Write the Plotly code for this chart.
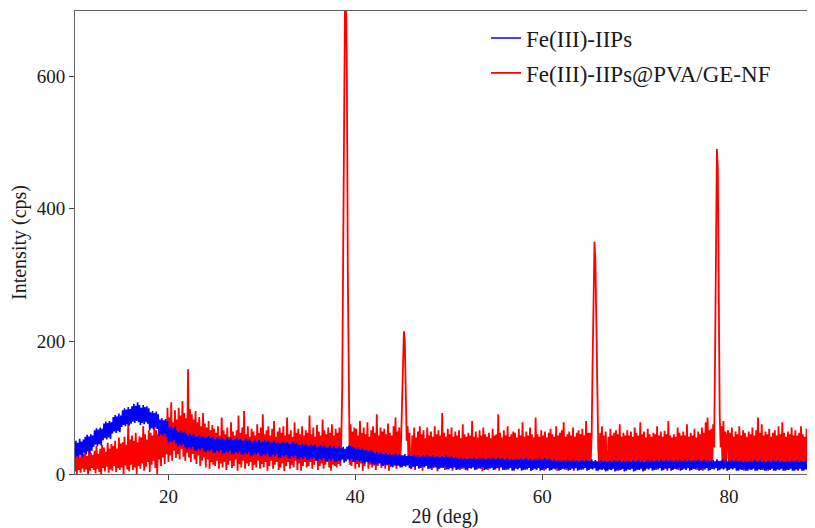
import plotly.graph_objects as go

# 2-theta sampling grid (deg), 0.1 deg step from 10.0 to 89.2
two_theta = [round(10 + 0.1 * i, 1) for i in range(793)]

# Fe(III)-IIPs (blue) intensity (cps), one row per degree
fe_iips = [
    24, 50, 27, 47, 25, 53, 29, 49, 26, 52,
    32, 56, 30, 59, 34, 57, 31, 60, 35, 58,
    41, 66, 44, 69, 42, 67, 45, 70, 43, 68,
    51, 76, 54, 79, 52, 77, 55, 80, 53, 78,
    61, 86, 64, 89, 62, 87, 65, 91, 63, 88,
    71, 96, 74, 99, 72, 97, 75, 101, 73, 98,
    76, 102, 79, 106, 77, 103, 80, 108, 78, 104,
    74, 100, 77, 104, 75, 101, 78, 102, 76, 99,
    66, 93, 69, 95, 67, 92, 70, 94, 68, 90,
    57, 82, 60, 84, 58, 81, 61, 83, 56, 80,
    47, 70, 50, 72, 48, 69, 51, 71, 46, 66,
    41, 63, 44, 65, 42, 62, 45, 64, 40, 61,
    37, 59, 40, 61, 38, 58, 41, 60, 36, 57,
    35, 57, 38, 59, 36, 56, 39, 58, 34, 55,
    33, 55, 36, 57, 34, 54, 37, 56, 32, 53,
    32, 54, 35, 56, 33, 53, 36, 55, 31, 52,
    31, 53, 34, 55, 32, 52, 35, 54, 30, 51,
    30, 52, 33, 54, 31, 51, 34, 53, 29, 50,
    29, 51, 32, 53, 30, 50, 33, 52, 28, 49,
    28, 50, 31, 52, 29, 49, 32, 51, 27, 48,
    27, 49, 30, 51, 28, 48, 31, 50, 26, 47,
    26, 48, 29, 50, 27, 47, 30, 49, 25, 46,
    25, 47, 28, 49, 26, 46, 29, 48, 24, 45,
    24, 46, 27, 48, 25, 45, 28, 47, 23, 44,
    22, 44, 25, 46, 23, 43, 26, 45, 21, 42,
    21, 43, 24, 45, 22, 42, 25, 44, 20, 41,
    20, 42, 23, 44, 21, 41, 24, 43, 19, 40,
    19, 41, 22, 43, 20, 40, 23, 42, 18, 39,
    18, 40, 21, 42, 19, 39, 22, 41, 17, 38,
    19, 41, 22, 43, 20, 42, 23, 41, 18, 40,
    18, 38, 21, 40, 19, 37, 20, 39, 17, 36,
    16, 36, 19, 37, 17, 35, 18, 36, 15, 34,
    13, 31, 15, 33, 14, 30, 16, 32, 12, 30,
    12, 30, 14, 32, 13, 29, 15, 31, 11, 29,
    11, 29, 13, 31, 12, 28, 14, 30, 10, 28,
    10, 28, 12, 30, 11, 27, 13, 29, 9, 27,
    9, 27, 11, 29, 10, 26, 12, 28, 8, 26,
    9, 27, 11, 28, 10, 26, 12, 29, 8, 27,
    8, 26, 10, 28, 9, 25, 11, 27, 7, 25,
    8, 26, 10, 27, 9, 25, 11, 28, 7, 26,
    7, 25, 9, 27, 8, 24, 10, 26, 6, 24,
    7, 23, 9, 25, 8, 22, 10, 24, 6, 22,
    7, 23, 9, 24, 8, 22, 10, 25, 6, 23,
    7, 23, 9, 25, 8, 22, 10, 24, 6, 22,
    7, 23, 9, 24, 8, 22, 10, 25, 6, 23,
    7, 23, 9, 25, 8, 22, 10, 24, 6, 22,
    6, 22, 8, 24, 7, 21, 9, 23, 5, 21,
    6, 22, 8, 23, 7, 21, 9, 24, 5, 22,
    6, 22, 8, 24, 7, 21, 9, 23, 5, 21,
    6, 22, 8, 23, 7, 21, 9, 24, 5, 22,
    6, 22, 8, 24, 7, 21, 9, 23, 5, 21,
    6, 20, 8, 22, 7, 19, 9, 21, 5, 19,
    6, 20, 8, 21, 7, 19, 9, 22, 5, 20,
    6, 20, 8, 22, 7, 19, 9, 21, 5, 19,
    6, 20, 8, 21, 7, 19, 9, 22, 5, 20,
    6, 20, 8, 22, 7, 19, 9, 21, 5, 19,
    5, 19, 7, 21, 6, 18, 8, 20, 4, 18,
    5, 19, 7, 20, 6, 18, 8, 21, 4, 19,
    5, 19, 7, 21, 6, 18, 8, 20, 4, 18,
    5, 19, 7, 20, 6, 18, 8, 21, 4, 19,
    5, 19, 7, 21, 6, 18, 8, 20, 4, 18,
    6, 20, 8, 22, 7, 19, 9, 21, 5, 19,
    6, 20, 8, 21, 7, 19, 9, 22, 5, 20,
    6, 20, 8, 22, 7, 19, 9, 21, 5, 19,
    6, 20, 8, 21, 7, 19, 9, 22, 5, 20,
    6, 20, 8, 22, 7, 19, 9, 21, 5, 19,
    6, 20, 8, 21, 7, 19, 9, 22, 5, 20,
    6, 20, 8, 22, 7, 19, 9, 21, 5, 19,
    6, 20, 8, 21, 7, 19, 9, 22, 5, 20,
    6, 20, 8, 22, 7, 19, 9, 21, 5, 19,
    6, 20, 8, 21, 7, 19, 9, 22, 5, 20,
    5, 19, 7, 21, 6, 18, 8, 20, 5, 18,
    5, 19, 7, 20, 6, 18, 8, 21, 5, 19,
    5, 19, 7, 21, 6, 18, 8, 20, 5, 18,
    5, 19, 7, 20, 6, 18, 8, 21, 5, 19,
    5, 19, 7, 21, 6, 18, 8, 20, 5, 18,
    5, 19, 7, 20, 6, 18, 8, 21, 5, 19,
    5, 19, 7, 21, 6, 18, 8, 20, 5, 18,
    5, 19, 7, 20, 6, 18, 8, 21, 5, 19,
    5, 19, 7,
]

# Fe(III)-IIPs@PVA/GE-NF (red) intensity (cps), one row per degree
fe_iips_pva = [
    4, 28, 0, 34, 6, 25, 2, 38, 8, 30,
    3, 36, 7, 27, 0, 40, 5, 32, 9, 29,
    6, 35, 1, 42, 8, 30, 3, 38, 0, 44,
    9, 40, 4, 33, 11, 47, 2, 38, 7, 45,
    5, 42, 12, 50, 3, 38, 9, 55, 6, 46,
    10, 48, 0, 56, 13, 44, 7, 78, 4, 52,
    14, 58, 6, 50, 10, 62, 0, 48, 12, 57,
    8, 55, 16, 72, 5, 60, 11, 52, 18, 66,
    3, 62, 14, 58, 20, 75, 9, 66, 0, 60,
    22, 70, 12, 64, 25, 80, 15, 72, 30, 100,
    18, 85, 28, 108, 20, 78, 35, 96, 24, 82,
    30, 100, 22, 88, 38, 110, 26, 92, 20, 84,
    32, 158, 25, 98, 18, 90, 30, 82, 22, 95,
    15, 78, 28, 86, 12, 72, 20, 92, 25, 76,
    10, 70, 22, 80, 8, 66, 18, 74, 14, 68,
    12, 62, 20, 72, 8, 58, 16, 85, 10, 66,
    18, 60, 6, 70, 14, 56, 20, 78, 9, 64,
    12, 58, 22, 66, 5, 88, 15, 62, 10, 70,
    20, 95, 8, 60, 16, 72, 12, 56, 18, 68,
    6, 64, 14, 58, 10, 75, 20, 62, 8, 70,
    15, 90, 10, 60, 18, 66, 5, 72, 12, 58,
    20, 68, 8, 80, 14, 56, 18, 64, 6, 70,
    10, 62, 16, 72, 4, 58, 12, 85, 18, 60,
    8, 66, 14, 56, 10, 78, 20, 62, 6, 68,
    16, 60, 5, 72, 12, 58, 18, 66, 10, 62,
    12, 88, 18, 60, 8, 70, 14, 56, 20, 74,
    6, 64, 12, 58, 16, 82, 8, 66, 14, 60,
    18, 70, 10, 62, 5, 75, 14, 58, 12, 68,
    10, 62, 15, 70, 12, 50, 130, 300, 520, 720,
    720, 600, 300, 100, 14, 75, 12, 64, 18, 70,
    8, 68, 15, 58, 10, 80, 16, 62, 5, 70,
    12, 60, 18, 78, 8, 56, 14, 66, 10, 72,
    16, 62, 6, 90, 12, 58, 18, 70, 9, 64,
    14, 68, 8, 60, 15, 76, 5, 62, 12, 58,
    10, 72, 16, 85, 8, 64, 12, 70, 14, 50,
    110, 190, 215, 200, 120, 50, 72, 14, 62, 10,
    8, 58, 14, 70, 6, 55, 12, 64, 10, 72,
    16, 60, 5, 66, 12, 54, 18, 70, 8, 58,
    12, 64, 6, 56, 14, 72, 10, 60, 4, 66,
    15, 58, 9, 92, 12, 62, 6, 56, 14, 68,
    8, 60, 12, 70, 5, 56, 16, 64, 10, 58,
    14, 66, 6, 54, 12, 75, 8, 60, 15, 56,
    5, 62, 12, 58, 9, 80, 14, 56, 6, 64,
    12, 55, 8, 66, 15, 58, 4, 70, 10, 60,
    14, 56, 6, 62, 12, 54, 9, 68, 16, 58,
    8, 60, 12, 90, 5, 62, 14, 55, 10, 66,
    15, 58, 6, 72, 12, 56, 9, 60, 14, 64,
    5, 62, 12, 55, 8, 68, 15, 58, 10, 78,
    12, 56, 6, 64, 14, 58, 9, 70, 5, 60,
    14, 55, 10, 85, 6, 60, 12, 56, 8, 66,
    12, 58, 5, 64, 14, 55, 9, 62, 12, 68,
    6, 60, 14, 56, 10, 72, 5, 58, 12, 62,
    15, 66, 8, 78, 12, 56, 6, 60, 14, 64,
    9, 58, 12, 70, 5, 56, 14, 62, 10, 66,
    12, 60, 6, 68, 14, 58, 10, 80, 8, 62,
    12, 62, 20, 60, 170, 290, 350, 320, 230, 120,
    40, 12, 62, 8, 72, 14, 58, 6, 64, 12,
    10, 56, 15, 68, 6, 58, 12, 62, 9, 66,
    14, 60, 5, 75, 12, 56, 8, 62, 15, 58,
    6, 66, 12, 58, 10, 64, 14, 56, 8, 70,
    12, 62, 6, 58, 15, 78, 9, 60, 12, 64,
    5, 55, 14, 68, 8, 60, 12, 56, 10, 62,
    15, 60, 6, 72, 12, 58, 9, 64, 14, 56,
    8, 65, 12, 60, 5, 80, 14, 58, 10, 55,
    12, 60, 8, 56, 14, 70, 6, 62, 12, 58,
    9, 64, 15, 58, 6, 75, 12, 56, 10, 62,
    14, 58, 8, 68, 12, 55, 6, 64, 15, 60,
    10, 70, 5, 62, 12, 78, 9, 85, 14, 66,
    12, 68, 8, 75, 40, 170, 400, 490, 460, 250,
    90, 40, 72, 12, 80, 8, 64, 14, 58, 66,
    10, 62, 14, 70, 8, 56, 15, 64, 6, 60,
    12, 72, 8, 58, 14, 66, 5, 62, 12, 56,
    9, 64, 15, 60, 6, 70, 12, 58, 10, 66,
    14, 85, 8, 62, 12, 75, 6, 58, 14, 64,
    10, 60, 5, 68, 12, 56, 9, 62, 15, 66,
    6, 58, 12, 72, 8, 60, 14, 78, 10, 62,
    12, 56, 6, 64, 14, 60, 9, 70, 12, 58,
    8, 66, 14, 58, 5, 62, 12, 72, 10, 60,
    15, 56, 9, 68, 12, 60, 6, 64, 14, 58,
    10, 66, 8,
]

assert len(fe_iips) == len(two_theta) == len(fe_iips_pva)

x_ticks = [20, 40, 60, 80]
y_ticks = [0, 200, 400, 600]

FONT = "Liberation Serif"
INK = "#1a1a1a"

fig = go.Figure()
fig.add_trace(go.Scatter(
    x=two_theta, y=fe_iips_pva, mode="lines", name="Fe(III)-IIPs@PVA/GE-NF",
    line=dict(color="#ff0000", width=1.8), legendgroup="b", legendrank=2,
))
fig.add_trace(go.Scatter(
    x=two_theta, y=fe_iips, mode="lines", name="Fe(III)-IIPs",
    line=dict(color="#0000ff", width=1.6), legendgroup="a", legendrank=1,
))

fig.update_layout(
    width=807, height=520,
    margin=dict(l=67, r=0, t=3, b=54),
    paper_bgcolor="white", plot_bgcolor="white",
    font=dict(family=FONT, size=19, color=INK),
    showlegend=True,
    legend=dict(
        x=0.5555, y=0.988, xanchor="left", yanchor="top",
        traceorder="grouped", tracegroupgap=2,
        font=dict(family=FONT, size=23, color=INK),
        bgcolor="rgba(0,0,0,0)", itemwidth=30,
    ),
    xaxis=dict(
        range=[10, 89.2], tickvals=x_ticks, ticks="outside", ticklen=5,
        tickcolor="#444", showline=True, linecolor="#666", linewidth=1,
        mirror=True, showgrid=False, zeroline=False,
        title=dict(text="2θ (deg)", font=dict(family=FONT, size=20, color=INK), standoff=4),
        tickfont=dict(family=FONT, size=19, color=INK),
    ),
    yaxis=dict(
        range=[0, 698], tickvals=y_ticks, ticks="outside", ticklen=5,
        tickcolor="#444", showline=True, linecolor="#666", linewidth=1,
        mirror=False, showgrid=False, zeroline=False,
        title=dict(text="Intensity (cps)", font=dict(family=FONT, size=20, color=INK), standoff=6),
        tickfont=dict(family=FONT, size=19, color=INK),
    ),
)

fig.write_html("out.html")
